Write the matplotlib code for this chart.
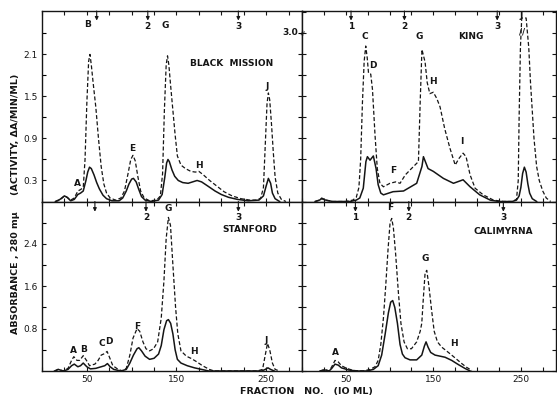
"""Gel filtration profiles of four fig varieties (absorbance and activity)."""

import matplotlib

matplotlib.use("Agg")

import matplotlib.pyplot as plt
from matplotlib.ticker import MultipleLocator, FixedLocator, NullFormatter

plt.rcParams["font.family"] = ["DejaVu Sans"]

INK = "#151515"

# ---- data: fraction number vs. value (solid = absorbance, dashed = activity)
bm_frac_act = [15, 20, 25, 28, 32, 36, 40, 43, 46, 48, 50, 52, 53.5, 55, 57, 60, 63, 66,
               69, 72, 76, 82, 88, 92, 96, 99, 101.5, 104, 107, 110, 114, 120, 128,
               132, 134.5, 136.5, 138.5, 140, 141.5, 143.5, 146, 148.5, 151, 155, 160,
               166, 171, 175, 180, 187, 195, 203, 212, 222, 232, 240, 244, 247, 249,
               251, 252.5, 254, 256, 258, 260, 263, 267, 272]
bm_act = [0.0, 0.02, 0.08, 0.06, 0.02, 0.05, 0.15, 0.17, 0.2, 0.6, 1.4, 2.0, 2.1, 1.95,
          1.7, 1.35, 0.9, 0.5, 0.25, 0.12, 0.05, 0.02, 0.05, 0.15, 0.4, 0.6, 0.66,
          0.58, 0.35, 0.15, 0.05, 0.01, 0.02, 0.08, 0.4, 1.3, 1.95, 2.08, 1.95, 1.65,
          1.3, 0.95, 0.65, 0.52, 0.47, 0.43, 0.42, 0.43, 0.38, 0.3, 0.22, 0.14, 0.08,
          0.04, 0.02, 0.02, 0.05, 0.2, 0.8, 1.4, 1.55, 1.45, 1.1, 0.7, 0.35, 0.12,
          0.03, 0.0]
bm_frac_abs = [15, 20, 25, 28, 32, 36, 40, 43, 46, 49, 51, 53, 55, 58, 61, 64, 68, 72,
               78, 86, 90, 94, 97, 100, 102, 105, 108, 111, 115, 122, 130, 134, 137,
               139, 140.5, 142, 145, 148, 152, 157, 163, 168, 173, 178, 185, 193, 200,
               208, 218, 230, 242, 247, 250, 252.5, 255, 257, 260, 265]
bm_abs = [0.0, 0.03, 0.08, 0.06, 0.01, 0.03, 0.1, 0.12, 0.15, 0.3, 0.42, 0.49, 0.47,
          0.38, 0.27, 0.18, 0.09, 0.04, 0.01, 0.01, 0.05, 0.15, 0.25, 0.32, 0.33, 0.28,
          0.17, 0.07, 0.02, 0.0, 0.02, 0.1, 0.35, 0.55, 0.6, 0.57, 0.45, 0.36, 0.3,
          0.27, 0.26, 0.28, 0.3, 0.28, 0.22, 0.15, 0.1, 0.06, 0.03, 0.01, 0.02, 0.08,
          0.22, 0.33, 0.26, 0.12, 0.04, 0.0]

king_frac_act = [15, 20, 22.5, 27, 35, 50, 58, 62, 65, 67, 69, 71, 72.8, 74.5, 76,
                 78.5, 80.5, 83.4, 86, 89, 93, 100.5, 107, 112, 118, 125, 133, 135,
                 137, 140.6, 143, 146, 150, 154, 157.7, 163, 169, 175, 179, 184, 187.4,
                 192, 197.7, 207, 218.7, 230, 240, 245, 247, 248, 249.5, 251, 256, 259,
                 261, 263, 265, 268, 271, 275, 279, 284]
king_act = [0.0, 0.02, 0.05, 0.02, 0.0, 0.0, 0.02, 0.06, 0.2, 0.6, 1.4, 2.0, 2.22, 2.05,
            1.83, 1.82, 1.6, 0.95, 0.47, 0.26, 0.21, 0.26, 0.28, 0.26, 0.38, 0.47, 0.57,
            1.42, 2.17, 1.99, 1.7, 1.54, 1.56, 1.47, 1.35, 1.04, 0.76, 0.52, 0.61, 0.69,
            0.64, 0.38, 0.19, 0.095, 0.02, 0.0, 0.0, 0.03, 0.3, 1.2, 2.2, 2.62, 2.62,
            2.2, 1.7, 1.3, 0.9, 0.5, 0.3, 0.15, 0.05, 0.0]
king_frac_abs = [15, 20, 22.5, 27, 35, 55, 62, 66, 70, 73, 74.7, 77.7, 81.5, 84.6, 87,
                 90, 93, 104, 116, 131, 137, 138.7, 144, 150, 161.5, 173, 184, 192, 203,
                 215, 225, 240, 245, 248, 250, 252, 254, 256, 258, 260, 263, 268]
king_abs = [0.0, 0.02, 0.04, 0.02, 0.0, 0.0, 0.02, 0.05, 0.19, 0.57, 0.64, 0.59, 0.65,
            0.47, 0.24, 0.12, 0.095, 0.14, 0.15, 0.26, 0.5, 0.64, 0.47, 0.43, 0.33, 0.26,
            0.31, 0.21, 0.095, 0.02, 0.0, 0.0, 0.02, 0.08, 0.2, 0.4, 0.49, 0.42, 0.25,
            0.12, 0.04, 0.0]

st_frac_act = [14.4, 18, 23.7, 29, 33, 35.5, 39, 42, 46, 49.6, 53, 59, 62.6, 66, 70,
               72.6, 75.5, 79, 85, 90, 94, 98, 101.5, 106, 109, 112.6, 116, 120, 124.4,
               129, 133, 136, 138.5, 141, 143.3, 146, 149, 151.5, 155, 161, 166, 172,
               179, 186.7, 192, 240, 246, 249, 251.5, 254, 257, 260, 265]
st_act = [0.0, 0.03, 0.0, 0.05, 0.2, 0.27, 0.2, 0.2, 0.29, 0.2, 0.1, 0.13, 0.2, 0.3,
          0.33, 0.37, 0.25, 0.1, 0.03, 0.0, 0.05, 0.3, 0.62, 0.8, 0.75, 0.55, 0.42, 0.38,
          0.42, 0.55, 1.0, 1.7, 2.5, 2.9, 2.75, 2.0, 1.2, 0.7, 0.38, 0.28, 0.24, 0.18,
          0.1, 0.03, 0.0, 0.0, 0.03, 0.3, 0.52, 0.4, 0.15, 0.03, 0.0]
st_frac_abs = [14, 18, 24, 29, 33, 36, 40, 43, 46, 50, 54, 60, 66, 70, 73, 76, 80, 88,
               94, 98, 102, 106, 108, 111, 115, 120, 125, 130, 133, 136, 139, 141,
               143.5, 146, 148.5, 151, 155, 162, 170, 178, 186, 245, 249, 252, 255, 259]
st_abs = [0.0, 0.03, 0.0, 0.03, 0.1, 0.13, 0.08, 0.1, 0.15, 0.08, 0.04, 0.05, 0.08,
          0.1, 0.14, 0.08, 0.03, 0.0, 0.03, 0.15, 0.3, 0.42, 0.44, 0.38, 0.28, 0.22,
          0.24, 0.32, 0.48, 0.78, 0.95, 0.97, 0.9, 0.7, 0.4, 0.22, 0.15, 0.1, 0.06,
          0.03, 0.0, 0.0, 0.03, 0.06, 0.03, 0.0]

cal_frac_act = [20.6, 26, 31, 34, 37.7, 41.5, 45, 51, 58.7, 70, 77.7, 83.4, 87, 90, 93,
                95.6, 98.3, 100.6, 102.5, 104.4, 107, 110, 113, 116.6, 120.4, 125, 131,
                135, 136.8, 138.7, 140.6, 142.5, 145, 148, 151, 154.7, 159.6, 165, 171,
                176.8, 182.5, 188, 194]
cal_act = [0.0, 0.03, 0.0, 0.08, 0.2, 0.17, 0.1, 0.05, 0.01, 0.0, 0.03, 0.08, 0.2, 0.5,
           1.0, 1.6, 2.3, 2.8, 2.88, 2.7, 2.2, 1.5, 0.9, 0.55, 0.42, 0.42, 0.55, 0.75,
           0.9, 1.4, 1.85, 1.9, 1.6, 1.15, 0.75, 0.55, 0.45, 0.38, 0.3, 0.22, 0.14,
           0.07, 0.01]
cal_frac_abs = [20.6, 26, 31, 34, 37.7, 41.5, 45, 53, 62.5, 74, 81.5, 87, 91, 95, 98.7,
                101.3, 103.6, 106, 109, 112, 114.7, 117.7, 123.4, 131, 136.8, 139.8,
                141.7, 144, 147, 152, 157.7, 163.4, 171, 178.7, 186, 192]
cal_abs = [0.0, 0.02, 0.0, 0.05, 0.13, 0.11, 0.06, 0.02, 0.0, 0.0, 0.03, 0.1, 0.3, 0.7,
           1.1, 1.3, 1.33, 1.2, 0.9, 0.5, 0.32, 0.25, 0.21, 0.21, 0.3, 0.47, 0.55, 0.45,
           0.35, 0.3, 0.28, 0.26, 0.2, 0.12, 0.05, 0.0]

# peak letters: (label, fraction, value)
bm_peaks = [("A", 39.6, 0.26), ("B", 51, 2.53), ("E", 100.7, 0.75), ("G", 137.4, 2.52),
            ("H", 175.5, 0.52), ("J", 250.7, 1.64)]
king_peaks = [("C", 72, 2.36), ("D", 81.5, 1.94), ("F", 104, 0.44), ("G", 134, 2.36),
              ("H", 150, 1.72), ("I", 183, 0.85), ("J", 250, 2.66)]
st_peaks = [("A", 35.5, 0.38), ("B", 46, 0.41), ("C", 67, 0.51), ("D", 74.4, 0.56),
            ("F", 106, 0.84), ("G", 140.7, 3.07), ("H", 170, 0.36), ("J", 249.6, 0.58)]
cal_peaks = [("A", 38.5, 0.34), ("F", 101, 3.09), ("G", 140.6, 2.12), ("H", 173, 0.52)]

# buffer change arrows: (label, fraction)
bm_marks = [("", 61), ("2", 118), ("3", 219)]
king_marks = [("1", 56), ("2", 117), ("3", 223)]
st_marks = [("", 59), ("2", 116), ("3", 219)]
cal_marks = [("1", 61), ("2", 122), ("3", 230)]

TOP_YMAX = 2.72
BOT_YMAX = 3.2


def draw_panel(ax, fa, act, fs, ab, peaks, marks, name, name_xy, ymax, arrow_len):
    ax.plot(fs, ab, color=INK, lw=1.1, solid_joinstyle="round")
    ax.plot(fa, act, color=INK, lw=0.9, linestyle=(0, (3.2, 1.8)))
    for lab, x, y in peaks:
        ax.text(x, y, lab, ha="center", va="center", fontsize=6.5,
                fontweight="bold", color=INK)
    for lab, x in marks:
        ax.annotate("", xy=(x, 1 - arrow_len), xytext=(x, 1.0),
                    xycoords=("data", "axes fraction"),
                    arrowprops=dict(arrowstyle="-|>", lw=0.8, color=INK,
                                    mutation_scale=5, shrinkA=0, shrinkB=0))
        if lab:
            ax.text(x, 1 - arrow_len - 0.01, lab, transform=ax.get_xaxis_transform(),
                    ha="center", va="top", fontsize=6.5, fontweight="bold", color=INK)
    ax.text(name_xy[0], name_xy[1], name, ha="center", va="center", fontsize=6.5,
            fontweight="bold", color=INK)
    ax.set_xlim(0, 290)
    ax.set_ylim(0, ymax)
    ax.xaxis.set_major_locator(MultipleLocator(25))
    for sp in ax.spines.values():
        sp.set_linewidth(1.0)
        sp.set_color(INK)
    ax.tick_params(direction="in", length=3, width=0.8, colors=INK, labelsize=6.5,
                   top=True, right=True, pad=3)


fig = plt.figure(figsize=(5.57, 3.99), dpi=100)
L, M, R = 42 / 557, 302 / 557, 0.998
Y_TOP, Y_MID, Y_BOT = 1 - 11 / 399, 1 - 201.5 / 399, 1 - 371 / 399

ax_bm = fig.add_axes([L, Y_MID, M - L, Y_TOP - Y_MID])
ax_king = fig.add_axes([M, Y_MID, R - M, Y_TOP - Y_MID])
ax_st = fig.add_axes([L, Y_BOT, M - L, Y_MID - Y_BOT])
ax_cal = fig.add_axes([M, Y_BOT, R - M, Y_MID - Y_BOT])

draw_panel(ax_bm, bm_frac_act, bm_act, bm_frac_abs, bm_abs, bm_peaks, bm_marks,
           "BLACK  MISSION", (212, 1.97), TOP_YMAX, 0.05)
draw_panel(ax_king, king_frac_act, king_act, king_frac_abs, king_abs, king_peaks,
           king_marks, "KING", (193, 2.35), TOP_YMAX, 0.05)
draw_panel(ax_st, st_frac_act, st_act, st_frac_abs, st_abs, st_peaks, st_marks,
           "STANFORD", (232, 2.67), BOT_YMAX, 0.06)
draw_panel(ax_cal, cal_frac_act, cal_act, cal_frac_abs, cal_abs, cal_peaks, cal_marks,
           "CALIMYRNA", (229.5, 2.64), BOT_YMAX, 0.06)

# y ticks
for ax in (ax_bm, ax_king):
    ax.yaxis.set_major_locator(MultipleLocator(0.3))
for ax in (ax_st, ax_cal):
    ax.yaxis.set_major_locator(MultipleLocator(0.4))
ax_bm.set_yticks([0.3, 0.9, 1.5, 2.1], labels=["0.3", "0.9", "1.5", "2.1"])
ax_bm.set_yticks([0.6, 1.2, 1.8, 2.4], minor=True)
ax_st.set_yticks([0.8, 1.6, 2.4], labels=["0.8", "1.6", "2.4"])
ax_st.set_yticks([0.4, 1.2, 2.0, 2.8], minor=True)
for ax in (ax_bm, ax_st):
    ax.tick_params(which="minor", direction="in", length=3, width=0.8, right=True)
for ax in (ax_king, ax_cal):
    ax.yaxis.set_major_formatter(NullFormatter())
for ax in (ax_bm, ax_king):
    ax.xaxis.set_major_formatter(NullFormatter())
for ax in (ax_st, ax_cal):
    ax.set_xticks([25 * i for i in range(12)],
                  labels=["", "", "50", "", "", "", "150", "", "", "", "250", ""])

# broken-axis notes on King panel
ax_king.text(-4, 2.42, "3.0", ha="right", va="center", fontsize=6.5,
             fontweight="bold", color=INK, clip_on=False)
ax_king.text(0, 2.42, "≈", ha="center", va="center", fontsize=6, rotation=70,
             color=INK, clip_on=False)
ax_king.text(251.5, 2.42, "//", ha="center", va="center", fontsize=6,
             fontweight="bold", color=INK)

fig.text(0.027, 0.49, "ABSORBANCE , 280 mμ     (ACTIVITY, ΔA/MIN/ML)",
         rotation=90, ha="center", va="center", fontsize=6.8, fontweight="bold",
         color=INK)
fig.text(0.55, 0.018, "FRACTION   NO.   (IO ML)", ha="center", va="center",
         fontsize=6.8, fontweight="bold", color=INK)

fig.savefig("out.png", dpi=100, facecolor="white")
